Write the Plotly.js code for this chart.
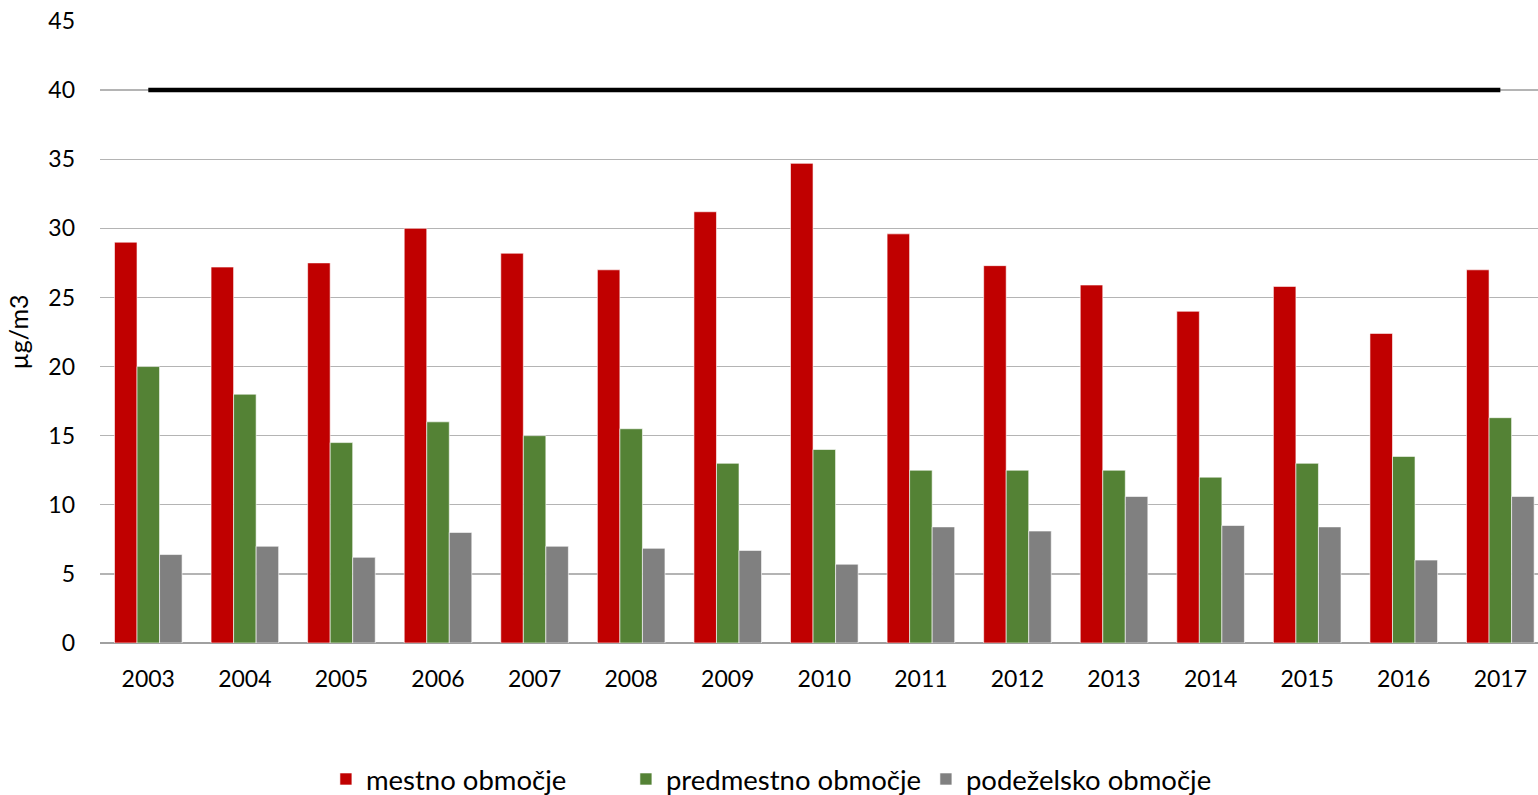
<!DOCTYPE html>
<html>
<head>
<meta charset="utf-8">
<script src="https://cdn.plot.ly/plotly-3.0.1.min.js"></script>
<style>html,body{margin:0;padding:0;background:#fff;}#chart{width:1538px;height:795px;}</style>
</head>
<body>
<div id="chart"></div>
<script>
const years = ["2003","2004","2005","2006","2007","2008","2009","2010","2011","2012","2013","2014","2015","2016","2017"];
const mestno = [29.0, 27.2, 27.5, 30.0, 28.2, 27.0, 31.2, 34.7, 29.6, 27.3, 25.9, 24.0, 25.8, 22.4, 27.0];
const predmestno = [20.0, 18.0, 14.5, 16.0, 15.0, 15.5, 13.0, 14.0, 12.5, 12.5, 12.5, 12.0, 13.0, 13.5, 16.3];
const podezelsko = [6.4, 7.0, 6.2, 8.0, 7.0, 6.85, 6.7, 5.7, 8.4, 8.1, 10.6, 8.5, 8.4, 6.0, 10.6];
const limitValue = [40, 40, 40, 40, 40, 40, 40, 40, 40, 40, 40, 40, 40, 40, 40];
const seriesNames = ["mestno območje", "predmestno območje", "podeželsko območje"];
const yTickVals = [0, 5, 10, 15, 20, 25, 30, 35, 40, 45];

const font = "Lato, 'Open Sans', sans-serif";
const barLine = {color: "rgba(255,255,255,0.6)", width: 1};
const traces = [
  {type: "bar", x: years, y: mestno, name: seriesNames[0], marker: {color: "#C00000", line: barLine}},
  {type: "bar", x: years, y: predmestno, name: seriesNames[1], marker: {color: "#548235", line: barLine}},
  {type: "bar", x: years, y: podezelsko, name: seriesNames[2], marker: {color: "#808080", line: barLine}},
  {type: "scatter", mode: "lines", x: years, y: limitValue, showlegend: false, hoverinfo: "skip",
   line: {color: "#000000", width: 4.5}}
];
const layout = {
  width: 1538, height: 795,
  margin: {l: 100, r: 0, t: 21, b: 152, autoexpand: false},
  paper_bgcolor: "#fff", plot_bgcolor: "#fff",
  font: {family: font, size: 23, color: "#000"},
  barmode: "group", bargap: 0.3, bargroupgap: 0,
  xaxis: {type: "category", range: [-0.5, 14.39], showgrid: false, zeroline: false,
          showline: false, ticks: "", ticklabelstandoff: 20, tickfont: {size: 23}},
  yaxis: {range: [0, 45], tickvals: yTickVals, showgrid: true, gridcolor: "#B4B4B4", gridwidth: 1.3,
          zeroline: true, zerolinecolor: "#A0A0A0", zerolinewidth: 1.5, showline: false, ticks: "",
          ticklabelstandoff: 24, tickfont: {size: 23},
          title: {text: "µg/m3", font: {size: 25}, standoff: 12}},
  legend: {orientation: "h", xref: "container", yref: "container", x: 0.5045, xanchor: "center",
           y: 0.02, yanchor: "middle",
           font: {size: 27.5}, traceorder: "normal", itemwidth: 30,
           entrywidth: 255, entrywidthmode: "pixels"},
  showlegend: true
};
Plotly.newPlot("chart", traces, layout, {displayModeBar: false, staticPlot: true});
</script>
</body>
</html>
